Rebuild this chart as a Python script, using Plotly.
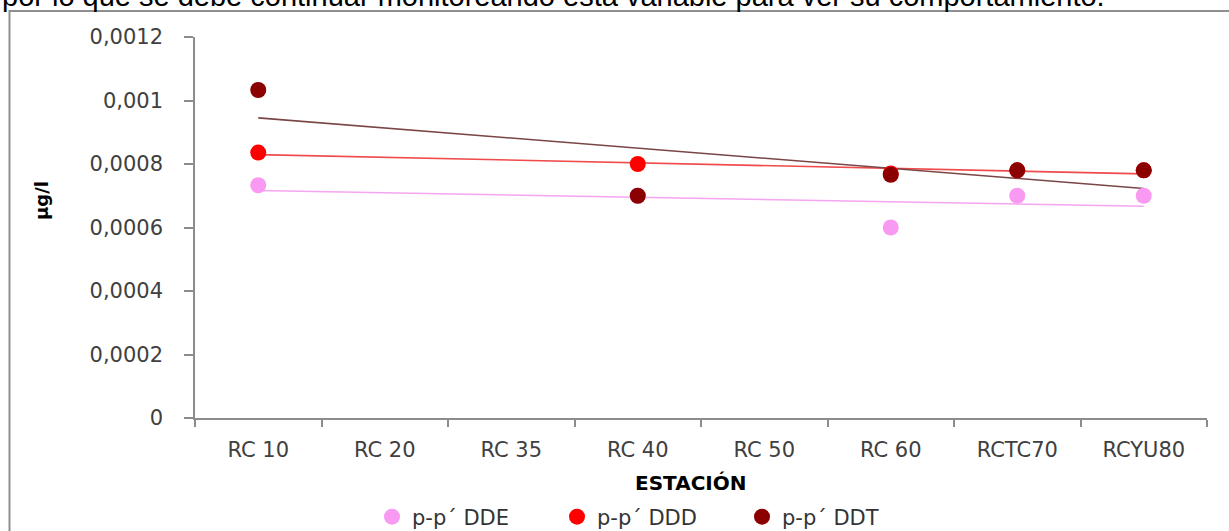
import numpy as np
import plotly.graph_objects as go

# Sampling stations and measured concentrations (µg/l); None = not detected
estaciones = ["RC 10", "RC 20", "RC 35", "RC 40", "RC 50", "RC 60", "RCTC70", "RCYU80"]
dde = [0.000733, None, None, 0.0007, None, 0.0006, 0.0007, 0.0007]
ddd = [0.000836, None, None, 0.0008, None, 0.00077, 0.00078, 0.00078]
ddt = [0.001033, None, None, 0.0007, None, 0.000766, 0.00078, 0.00078]

y_ticks = [0, 0.0002, 0.0004, 0.0006, 0.0008, 0.001, 0.0012]
y_tick_text = ["0", "0,0002", "0,0004", "0,0006", "0,0008", "0,001", "0,0012"]

series = [
    ("p-p´ DDE", dde, "#f99af2", "#f5a6f0"),
    ("p-p´ DDD", ddd, "#ff0000", "#f04a4a"),
    ("p-p´ DDT", ddt, "#8b0000", "#7a4646"),
]

W, H = 1229, 531
M_L, M_R, M_T, M_B = 195, 22, 37, 113
PW, PH = W - M_L - M_R, H - M_T - M_B


def px_x(p):
    return (p - M_L) / PW


def px_y(p):
    return 1 - (p - M_T) / PH


fig = go.Figure()

# Linear trendlines (least squares over station position 1..n)
for name, vals, _, tcolor in series:
    xi = np.array([i + 1 for i, v in enumerate(vals) if v is not None], float)
    yi = np.array([v for v in vals if v is not None], float)
    slope, icpt = np.polyfit(xi, yi, 1)
    x_end = [1, len(estaciones)]
    fig.add_trace(go.Scatter(
        x=[estaciones[0], estaciones[-1]],
        y=[slope * x + icpt for x in x_end],
        mode="lines", line=dict(color=tcolor, width=1.6),
        showlegend=False, hoverinfo="skip",
    ))

for name, vals, color, _ in series:
    fig.add_trace(go.Scatter(
        x=estaciones, y=vals, name=name, mode="markers",
        marker=dict(color=color, size=16, line=dict(width=0)),
    ))

tick_font = dict(family="DejaVu Sans", size=21, color="#404040")
axis_col = "#8c8c8c"

fig.update_layout(
    width=W, height=H,
    margin=dict(l=M_L, r=M_R, t=M_T, b=M_B, pad=0),
    paper_bgcolor="white", plot_bgcolor="white",
    showlegend=True,
    legend=dict(
        orientation="h",
        xref="container", x=372 / W, xanchor="left",
        yref="container", y=1 - 517 / H, yanchor="middle",
        font=dict(family="DejaVu Sans", size=21, color="#333333"),
        bgcolor="rgba(0,0,0,0)", itemwidth=30,
        entrywidth=140, entrywidthmode="pixels",
    ),
    xaxis=dict(
        type="category", categoryorder="array", categoryarray=estaciones,
        range=[-0.5, len(estaciones) - 0.5],
        showline=True, linecolor=axis_col, linewidth=1.5,
        ticks="outside", tickson="boundaries", ticklen=7, tickcolor=axis_col,
        tickwidth=1.5, tickfont=tick_font, ticklabelstandoff=12,
        showgrid=False, zeroline=False, automargin=False,
    ),
    yaxis=dict(
        range=[0, 0.0012], tickvals=y_ticks, ticktext=y_tick_text,
        showline=True, linecolor=axis_col, linewidth=1.5,
        ticks="outside", ticklen=9, tickcolor=axis_col, tickwidth=1.5,
        tickfont=tick_font, ticklabelstandoff=17,
        showgrid=False, zeroline=False, automargin=False,
    ),
    annotations=[
        dict(text="µg/l", textangle=-90, x=px_x(41), y=px_y(201),
             xref="paper", yref="paper", xanchor="center", yanchor="middle",
             showarrow=False,
             font=dict(family="DejaVu Sans", size=18, color="#000000", weight="bold")),
        dict(text="ESTACIÓN", x=px_x(691), y=px_y(483),
             xref="paper", yref="paper", xanchor="center", yanchor="middle",
             showarrow=False,
             font=dict(family="DejaVu Sans", size=20, color="#000000", weight="bold")),
        dict(text="por lo que se debe continuar monitoreando esta variable para ver su comportamiento.",
             x=px_x(0), y=px_y(14), xref="paper", yref="paper",
             xanchor="left", yanchor="bottom", showarrow=False,
             font=dict(family="Liberation Sans", size=29, color="#000000")),
    ],
    shapes=[
        dict(type="path", xref="paper", yref="paper",
             path=f"M {px_x(9.5)},{px_y(545)} L {px_x(9.5)},{px_y(11)} L {px_x(1240)},{px_y(11)}",
             line=dict(color="#8f8f8f", width=2)),
    ],
)

fig.write_html("out.html")
